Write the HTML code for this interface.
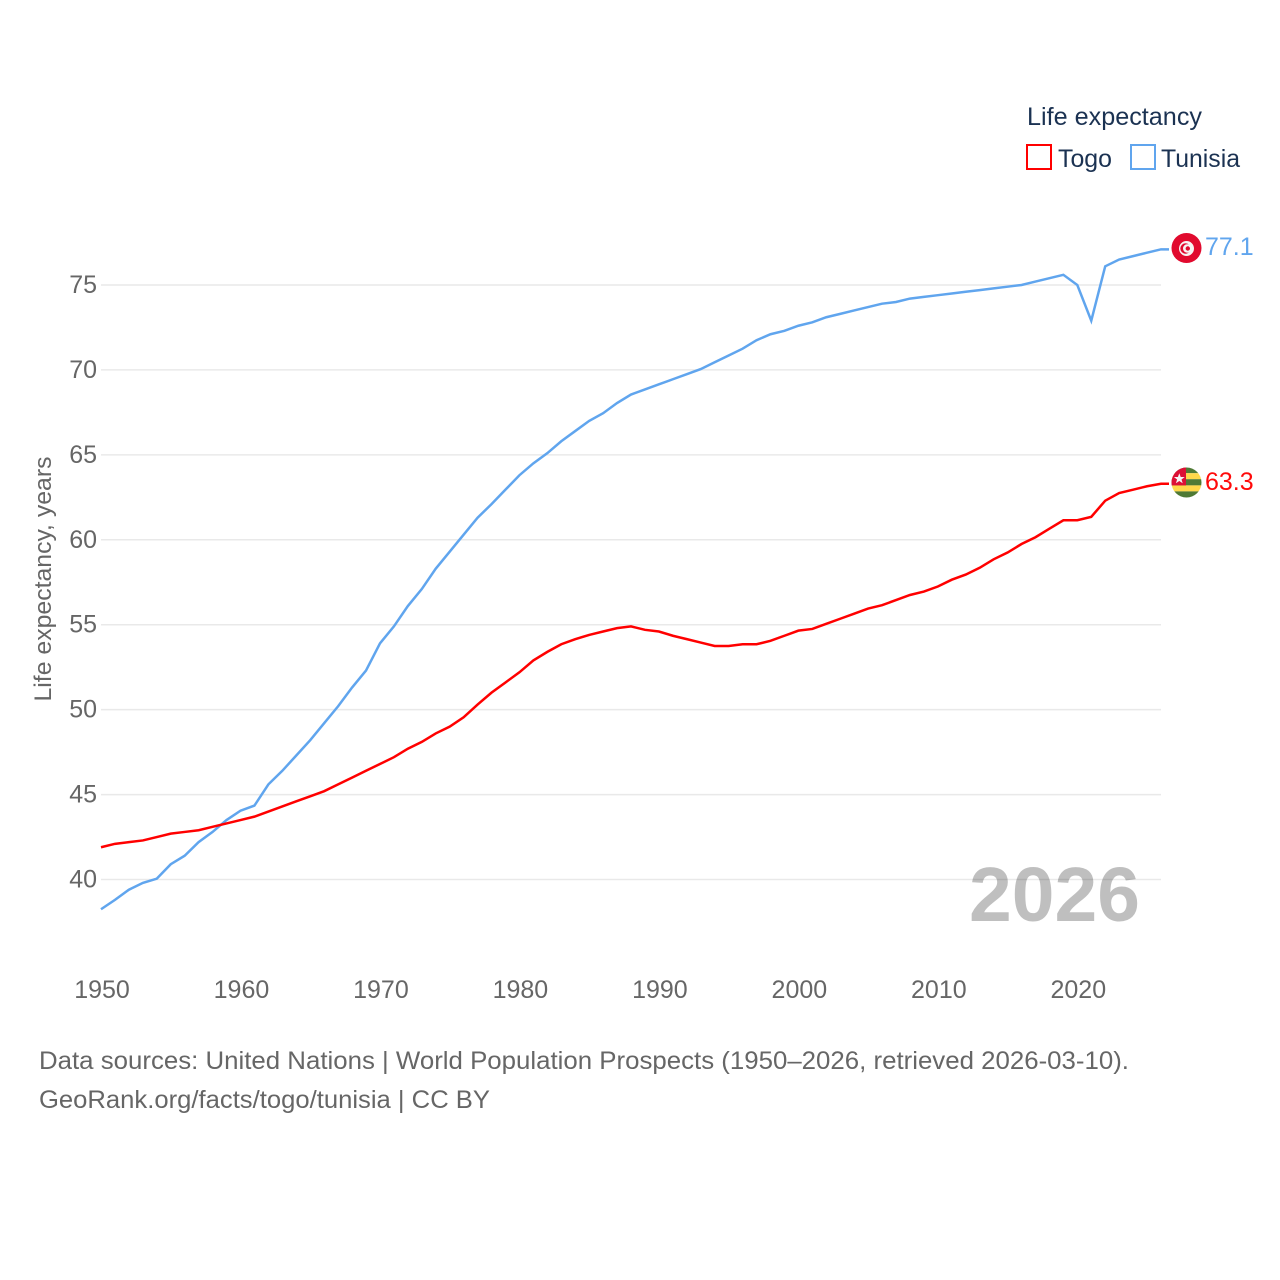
<!DOCTYPE html>
<html lang="en">
<head>
<meta charset="utf-8">
<title>Life expectancy: Togo and Tunisia</title>
<style>
html,body{margin:0;padding:0;background:#fff;width:1280px;height:1280px;overflow:hidden}
svg{display:block}
text{font-family:"Liberation Sans",sans-serif}
</style>
</head>
<body>
<svg id="chart" xmlns="http://www.w3.org/2000/svg" width="1280" height="1280" viewBox="0 0 1280 1280">
  <defs>
    <clipPath id="flag-clip-tn"><circle cx="1186.5" cy="248" r="15"/></clipPath>
    <clipPath id="flag-clip-tg"><circle cx="1186.5" cy="482.5" r="15"/></clipPath>
  </defs>
  <g id="grid"></g>
  <g id="yticks"></g>
  <g id="xticks"></g>
  <text transform="translate(51,579) rotate(-90)" text-anchor="middle" font-size="24" fill="#666" textLength="245" lengthAdjust="spacingAndGlyphs">Life expectancy, years</text>
  <text x="969" y="921" font-size="77" font-weight="700" fill="#000" fill-opacity="0.25" textLength="171" lengthAdjust="spacingAndGlyphs">2026</text>
  <g id="series"></g>

  <g clip-path="url(#flag-clip-tn)">
    <rect x="1171" y="233" width="31" height="30" fill="#e10a2e"/>
    <circle cx="1186.5" cy="248.5" r="7.5" fill="#f7f3f3"/>
    <circle cx="1185.5" cy="248.5" r="5.2" fill="#e10a2e"/>
    <circle cx="1187.2" cy="248.5" r="4.2" fill="#f7f3f3"/>
    <circle cx="1187.8" cy="248.5" r="2.2" fill="#e10a2e"/>
  </g>
  <text x="1205" y="255" font-size="25" fill="#60a5ee">77.1</text>

  <g clip-path="url(#flag-clip-tg)">
    <rect x="1171" y="467" width="31" height="6.2" fill="#4f7a35"/>
    <rect x="1171" y="473.2" width="31" height="6" fill="#ffd84a"/>
    <rect x="1171" y="479.2" width="31" height="6.2" fill="#4f7a35"/>
    <rect x="1171" y="485.4" width="31" height="6" fill="#ffd84a"/>
    <rect x="1171" y="491.4" width="31" height="7" fill="#4f7a35"/>
    <rect x="1171" y="467" width="15" height="18.4" fill="#dc1035"/>
    <polygon points="1179.3,473.2 1180.7,477 1184.7,477 1181.5,479.5 1182.7,483.3 1179.3,481 1175.9,483.3 1177.1,479.5 1173.9,477 1177.9,477" fill="#f5f5f5"/>
  </g>
  <text x="1205" y="490" font-size="25" fill="#ff0a0a">63.3</text>

  <g>
    <text x="1027" y="125" font-size="25" fill="#1b3252" textLength="175" lengthAdjust="spacingAndGlyphs">Life expectancy</text>
    <rect x="1027" y="145" width="24" height="24" fill="none" stroke="#ff0000" stroke-width="2"/>
    <text x="1058" y="167" font-size="25" fill="#1b3252" textLength="54" lengthAdjust="spacingAndGlyphs">Togo</text>
    <rect x="1131" y="145" width="24" height="24" fill="none" stroke="#60a5ee" stroke-width="2"/>
    <text x="1161" y="167" font-size="25" fill="#1b3252" textLength="79" lengthAdjust="spacingAndGlyphs">Tunisia</text>
  </g>

  <text x="39" y="1069" font-size="25" fill="#666" textLength="1090" lengthAdjust="spacingAndGlyphs">Data sources: United Nations | World Population Prospects (1950–2026, retrieved 2026-03-10).</text>
  <text x="39" y="1108" font-size="25" fill="#666" textLength="451" lengthAdjust="spacingAndGlyphs">GeoRank.org/facts/togo/tunisia | CC BY</text>
</svg>
<script>
const firstYear = 1950;
const lastYear = 2026;
const yTickValues = [40, 45, 50, 55, 60, 65, 70, 75];
const xTickValues = [1950, 1960, 1970, 1980, 1990, 2000, 2010, 2020];
const tunisiaValues = [
  38.25, 38.8, 39.4, 39.8, 40.05, 40.9, 41.4, 42.2, 42.8, 43.5,
  44.05, 44.35, 45.6, 46.4, 47.3, 48.2, 49.2, 50.2, 51.3, 52.3,
  53.9, 54.9, 56.1, 57.1, 58.3, 59.3, 60.3, 61.3, 62.1, 62.95,
  63.8, 64.5, 65.1, 65.8, 66.4, 67.0, 67.45, 68.05, 68.55, 68.85,
  69.15, 69.45, 69.75, 70.05, 70.45, 70.85, 71.25, 71.75, 72.1, 72.3,
  72.6, 72.8, 73.1, 73.3, 73.5, 73.7, 73.9, 74.0, 74.2, 74.3,
  74.4, 74.5, 74.6, 74.7, 74.8, 74.9, 75.0, 75.2, 75.4, 75.6,
  75.0, 72.9, 76.1, 76.5, 76.7, 76.9, 77.1
];
const togoValues = [
  41.9, 42.1, 42.2, 42.3, 42.5, 42.7, 42.8, 42.9, 43.1, 43.3,
  43.5, 43.7, 44.0, 44.3, 44.6, 44.9, 45.2, 45.6, 46.0, 46.4,
  46.8, 47.2, 47.7, 48.1, 48.6, 49.0, 49.55, 50.3, 51.0, 51.6,
  52.2, 52.9, 53.4, 53.85, 54.15, 54.4, 54.6, 54.8, 54.9, 54.7,
  54.6, 54.35, 54.15, 53.95, 53.75, 53.75, 53.85, 53.85, 54.05, 54.35,
  54.65, 54.75, 55.05, 55.35, 55.65, 55.95, 56.15, 56.45, 56.75, 56.95,
  57.25, 57.65, 57.95, 58.35, 58.85, 59.25, 59.75, 60.15, 60.65, 61.15,
  61.15, 61.35, 62.3, 62.75, 62.95, 63.15, 63.3
];

const NS = 'http://www.w3.org/2000/svg';
const plotLeft = 101;
const plotRight = 1161;
const connectorEnd = 1169;
function xScale(year) {
  return plotLeft + (year - firstYear) * (plotRight - plotLeft) / (lastYear - firstYear);
}
function yScale(value) {
  return 879.5 - (value - 40) * 16.986;
}
const gridGroup = document.getElementById('grid');
const yTickGroup = document.getElementById('yticks');
const xTickGroup = document.getElementById('xticks');
const seriesGroup = document.getElementById('series');

yTickValues.forEach(function (v) {
  const line = document.createElementNS(NS, 'line');
  
  
  line.setAttribute('x1', plotLeft);
  line.setAttribute('x2', plotRight);
  line.setAttribute('y1', yScale(v));
  line.setAttribute('y2', yScale(v));
  line.setAttribute('stroke', '#e9e9e9');
  line.setAttribute('stroke-width', '1.5');
  gridGroup.appendChild(line);

  const label = document.createElementNS(NS, 'text');
  
  
  label.setAttribute('x', 97);
  label.setAttribute('y', yScale(v) + 8);
  label.setAttribute('text-anchor', 'end');
  label.setAttribute('font-size', '25');
  label.setAttribute('fill', '#666');
  label.textContent = v;
  yTickGroup.appendChild(label);
});

xTickValues.forEach(function (yr) {
  const label = document.createElementNS(NS, 'text');
  
  
  label.setAttribute('x', xScale(yr) + 1);
  label.setAttribute('y', 998);
  label.setAttribute('text-anchor', 'middle');
  label.setAttribute('font-size', '25');
  label.setAttribute('fill', '#666');
  label.textContent = yr;
  xTickGroup.appendChild(label);
});

function linePoints(values) {
  const pts = values.map(function (v, i) {
    return xScale(firstYear + i).toFixed(2) + ',' + yScale(v).toFixed(2);
  });
  pts.push(connectorEnd + ',' + yScale(values[values.length - 1]).toFixed(2));
  return pts.join(' ');
}

const tunisiaLine = document.createElementNS(NS, 'polyline');


tunisiaLine.setAttribute('points', linePoints(tunisiaValues));
tunisiaLine.setAttribute('fill', 'none');
tunisiaLine.setAttribute('stroke', '#60a5ee');
tunisiaLine.setAttribute('stroke-width', '2.5');
seriesGroup.appendChild(tunisiaLine);

const togoLine = document.createElementNS(NS, 'polyline');


togoLine.setAttribute('points', linePoints(togoValues));
togoLine.setAttribute('fill', 'none');
togoLine.setAttribute('stroke', '#ff0000');
togoLine.setAttribute('stroke-width', '2.5');
seriesGroup.appendChild(togoLine);
</script>
</body>
</html>
